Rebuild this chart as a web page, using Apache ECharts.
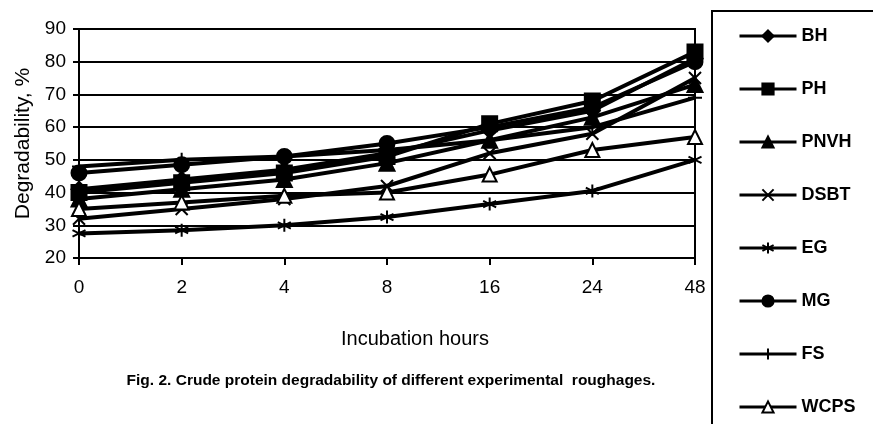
<!DOCTYPE html>
<html>
<head>
<meta charset="utf-8">
<script src="https://cdn.jsdelivr.net/npm/echarts@6/dist/echarts.min.js"></script>
<style>
html,body{margin:0;padding:0;background:#fff;}
#chart{width:873px;height:424px;}
</style>
</head>
<body>
<div id="chart"></div>
<script>
const categories = ['0', '2', '4', '8', '16', '24', '48'];
const yTicks = { min: 20, max: 90, interval: 10 };

const BH   = [41, 44, 47, 52, 59, 65, 81];
const PH   = [40, 43, 46, 51, 61, 68, 83];
const PNVH = [38, 41, 44, 49, 56, 63, 73];
const DSBT = [32, 35, 38, 42, 52, 58, 75];
const EG   = [27.5, 28.5, 30, 32.5, 36.5, 40.5, 50];
const MG   = [46, 48.5, 51, 55, 60, 66, 80];
const FS   = [48, 50, 51, 53, 56, 60, 69];
const WCPS = [35, 37, 39, 40, 45.5, 53, 57];

const seriesNames = ['BH', 'PH', 'PNVH', 'DSBT', 'EG', 'MG', 'FS', 'WCPS'];
const seriesData = [BH, PH, PNVH, DSBT, EG, MG, FS, WCPS];

const symbols = {
  BH: ['diamond', 15],
  PH: ['rect', 15],
  PNVH: ['triangle', 15],
  DSBT: ['path://M0,0L10,10M10,0L0,10', 12],
  EG: ['path://M5,0L5,10M0.7,2.5L9.3,7.5M9.3,2.5L0.7,7.5', 13],
  MG: ['circle', 15],
  FS: ['path://M5,0L5,10M0,5L10,5', 14],
  WCPS: ['emptyTriangle', 14]
};

const FONT = 'Liberation Sans, Arial, sans-serif';
const chart = echarts.init(document.getElementById('chart'), null, { renderer: 'canvas' });

const series = seriesNames.map((name, i) => ({
  name: name,
  type: 'line',
  data: seriesData[i],
  symbol: symbols[name][0],
  symbolSize: symbols[name][1],
  showAllSymbol: true,
  lineStyle: { color: '#000', width: 4 },
  itemStyle: { color: '#000', borderColor: '#000', borderWidth: 2 },
  emphasis: { disabled: true },
  z: 3
}));

chart.setOption({
  animation: false,
  backgroundColor: '#fff',
  grid: {
    left: 79, right: 178, top: 29, bottom: 166,
    show: true, borderColor: '#000', borderWidth: 2, backgroundColor: 'transparent'
  },
  xAxis: {
    type: 'category',
    data: categories,
    boundaryGap: false,
    axisLine: { lineStyle: { color: '#000', width: 2 } },
    axisTick: { show: true, inside: false, length: 7, lineStyle: { color: '#000', width: 2 } },
    axisLabel: { color: '#000', fontSize: 19, fontFamily: FONT, margin: 20 },
    splitLine: { show: false },
    name: 'Incubation hours',
    nameLocation: 'middle',
    nameGap: 71,
    nameTextStyle: { color: '#000', fontSize: 20, fontFamily: FONT, padding: [0, 0, 0, 56] }
  },
  yAxis: {
    type: 'value',
    min: yTicks.min, max: yTicks.max, interval: yTicks.interval,
    axisLine: { show: true, lineStyle: { color: '#000', width: 2 } },
    axisTick: { show: true, inside: false, length: 6, lineStyle: { color: '#000', width: 2 } },
    axisLabel: { color: '#000', fontSize: 19, fontFamily: FONT, margin: 13 },
    splitLine: { show: true, lineStyle: { color: '#000', width: 2 } },
    name: 'Degradability, %',
    nameLocation: 'middle',
    nameGap: 41,
    nameRotate: 90,
    nameTextStyle: { color: '#000', fontSize: 21, fontFamily: FONT }
  },
  legend: {
    orient: 'vertical',
    left: 733,
    top: 22,
    height: 400,
    itemWidth: 57,
    itemHeight: 14,
    itemGap: 35,
    data: seriesNames,
    lineStyle: { width: 3 },
    textStyle: { color: '#000', fontSize: 18, fontWeight: 'bold', fontFamily: FONT }
  },
  graphic: [
    {
      type: 'rect',
      shape: { x: 712, y: 11, width: 300, height: 500 },
      style: { fill: 'none', stroke: '#000', lineWidth: 2 },
      silent: true
    },
    {
      type: 'text',
      x: 391, y: 381,
      style: {
        text: 'Fig. 2. Crude protein degradability of different experimental  roughages.',
        fill: '#000',
        font: 'bold 15.5px Liberation Sans, Arial, sans-serif',
        textAlign: 'center',
        textVerticalAlign: 'middle'
      },
      silent: true
    }
  ],
  series: series
});
</script>
</body>
</html>
